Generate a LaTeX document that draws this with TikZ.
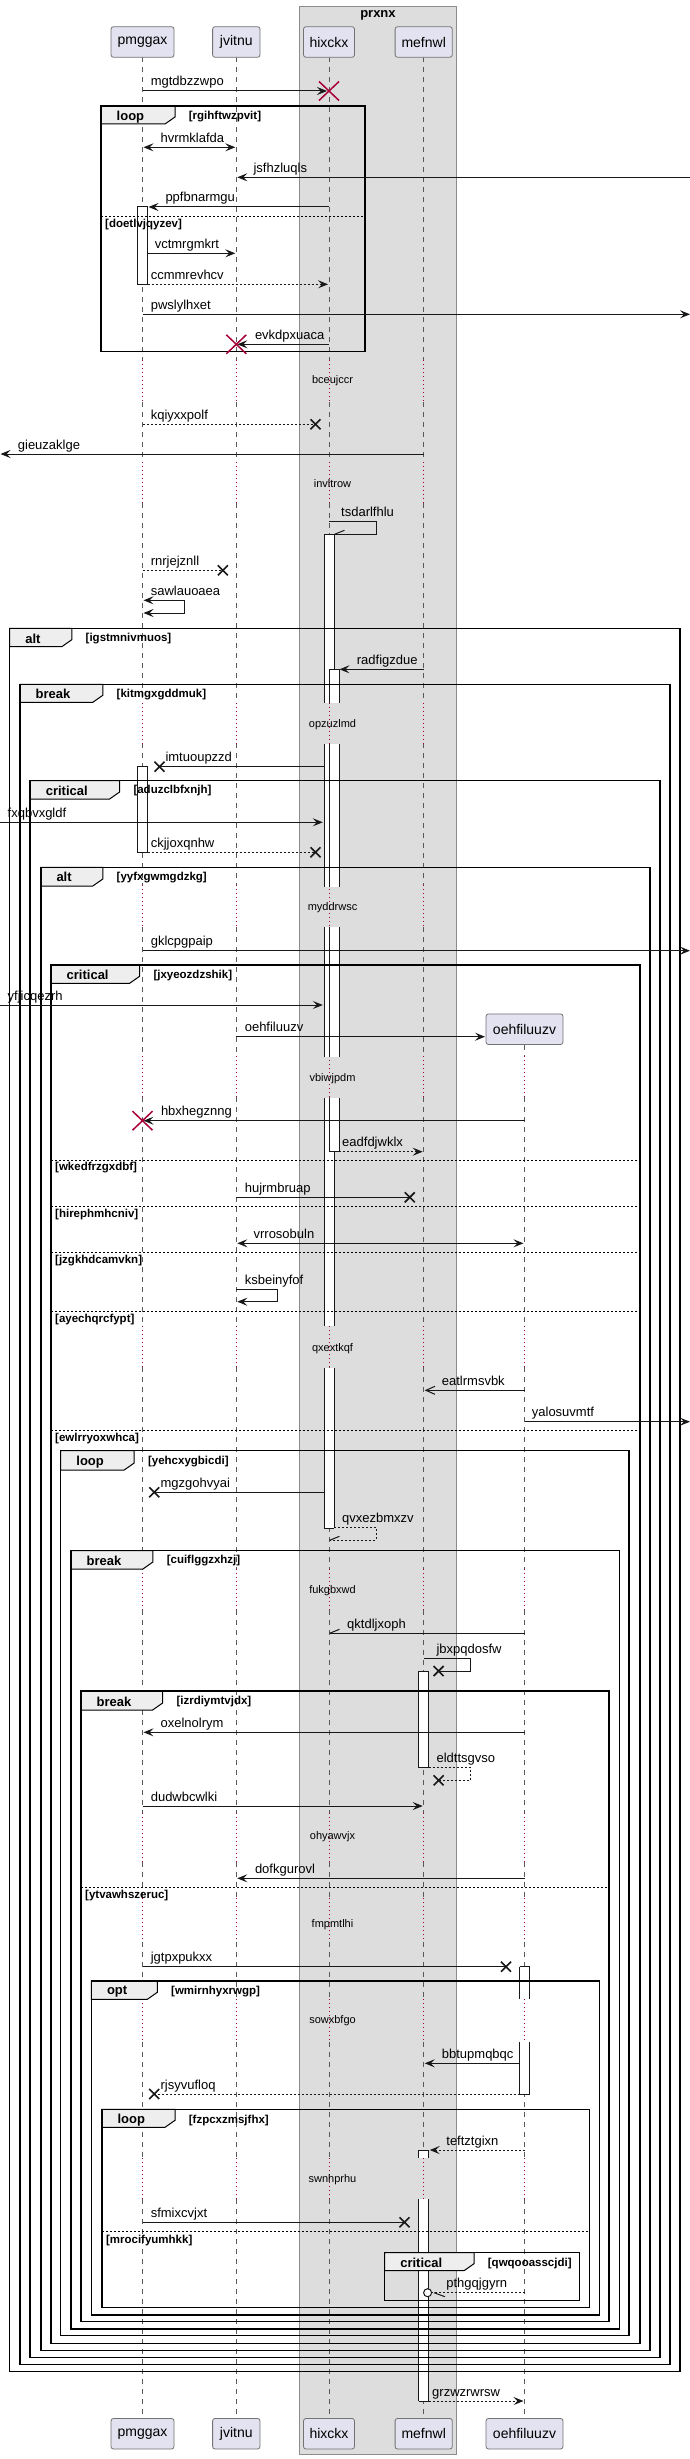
\documentclass[tikz,border=0pt]{standalone}
\usepackage{fontspec}
\setmainfont{Liberation Sans}
\usetikzlibrary{arrows.meta}
\definecolor{ln}{HTML}{181818}
\definecolor{redx}{HTML}{A80036}
\definecolor{partfill}{HTML}{E2E2F0}
\definecolor{tabfill}{HTML}{EEEEEE}
\definecolor{boxfill}{HTML}{DDDDDD}
\newcommand\msgc[6]{\coordinate (#1s) at (#2,#4); \coordinate (#1e) at (#3,#4);
  \draw[#5] (#1s) -- (#1e); \node[lbl] (#1l) at (#6,#4-5) {#1};}
\newcommand\selfm[8]{\coordinate (#1s) at (#2,#4); \coordinate (#1c) at (#3,#4);
  \coordinate (#1d) at (#3,#5); \coordinate (#1e) at (#6,#5);
  \draw[#7] (#1s) -- (#1c) -- (#1d) -- (#1e); \node[lbl] (#1l) at (#8,#4-5) {#1};}
\newcommand\blackx[2]{\draw[bxs] (#1-5,#2-5) -- (#1+5,#2+5) (#1-5,#2+5) -- (#1+5,#2-5);}
\newcommand\redx[2]{\draw[rxs] (#1-10,#2-9.5) -- (#1+10,#2+9.5) (#1-10,#2+9.5) -- (#1+10,#2-9.5);}
\newcommand\actseg[3]{\fill[white] (#1-5,#2) rectangle (#1+5,#3);
  \draw[act] (#1-5,#2) -- (#1-5,#3) (#1+5,#2) -- (#1+5,#3);}
\newcommand\actcap[2]{\draw[act] (#1-5,#2) -- (#1+5,#2);}
\newcommand\sqframe[9]{%
  \draw[tab] (#1,#3) -- (#5,#3) -- (#5,#6-7) -- (#5-10,#6) -- (#1,#6) -- cycle;
  \draw[frm] (#1,#3) rectangle (#2,#4);
  \node[ftitle] (ft-#8) at (#1+15.5,#9) {#7};
  \node[fcond] (fc-#8) at (#5+13.7,#9) {[#8]};}
\newcommand\sepline[5]{\draw[sep] (#1,#3) -- (#2,#3); \node[fcond] (fc-#5) at (#1+4,#4) {[#5]};}
\begin{document}
\begin{tikzpicture}[x=1pt,y=-1pt,
  >={Stealth[length=10pt,width=8pt,inset=4pt]},
  msg/.style={draw=ln,line width=1pt},
  dmsg/.style={msg,dash pattern=on 2pt off 2pt},
  oarr/.style={-{Straight Barb[length=9pt,width=8pt]}},
  lbl/.style={font=\fontsize{13}{15}\selectfont,text=black,inner sep=0pt,anchor=base west},
  dly/.style={font=\fontsize{11}{13}\selectfont,inner sep=0pt},
  part/.style={draw=black!55,fill=partfill,rounded corners=2.5pt,line width=0.8pt,font=\fontsize{14}{16}\selectfont,inner sep=0pt,minimum height=30.6pt},
  life/.style={draw=black!65,line width=0.8pt,dash pattern=on 5pt off 5pt},
  delayl/.style={draw=redx,line width=0.9pt,dash pattern=on 1pt off 3pt},
  frm/.style={draw=black,line width=1.5pt},
  tab/.style={fill=tabfill,draw=black,line width=1pt},
  ftitle/.style={font=\bfseries\fontsize{13}{15}\selectfont,inner sep=0pt,anchor=west},
  fcond/.style={font=\bfseries\fontsize{11.5}{13}\selectfont,inner sep=0pt,anchor=west},
  sep/.style={draw=black,line width=1pt,dash pattern=on 2pt off 2pt},
  act/.style={draw=ln,line width=1pt},
  bxs/.style={draw=ln,line width=1.6pt},
  rxs/.style={draw=redx,line width=1.5pt}]
\useasboundingbox (0,0) rectangle (690,2459);
\fill[white] (0,0) rectangle (690,2459);
% box
\node[draw=black!45,fill=boxfill,minimum width=156.9pt,minimum height=2448pt,inner sep=0pt,line width=0.8pt] (prxnx) at (377.95,1230) {};
\node[font=\bfseries\fontsize{13}{15}\selectfont,inner sep=0pt] (prxnxt) at (377.95,15) {prxnx};
% lifelines
\foreach \x in {142.5,236.3,329,423.7}{
  \foreach \a/\b in {57.3/360,402/461.7,503.3/702.7,743.3/885,927.3/1056,1097/1326,1367.3/1569.3,1610/1813.3,1861.7/1898,1941.7/1999.3,2041.7/2158.3,2199.3/2418.3}
    \draw[life] (\x,\a) -- (\x,\b);
  \foreach \a/\b in {360/402,461.7/503.3,702.7/743.3,885/927.3,1056/1097,1326/1367.3,1569.3/1610,1813.3/1861.7,1898/1941.7,1999.3/2041.7,2158.3/2199.3}
    \draw[delayl] (\x,\a) -- (\x,\b);
}
\foreach \a/\b in {1045/1056,1097/1326,1367.3/1569.3,1610/1813.3,1861.7/1898,1941.7/1999.3,2041.7/2158.3,2199.3/2418.3}
  \draw[life] (524.5,\a) -- (524.5,\b);
\foreach \a/\b in {1056/1097,1326/1367.3,1569.3/1610,1813.3/1861.7,1898/1941.7,1999.3/2041.7,2158.3/2199.3}
  \draw[delayl] (524.5,\a) -- (524.5,\b);
% participants
\node[part,minimum width=63pt] (p1) at (142.5,42) {pmggax};
\node[part,minimum width=47.4pt] (p2) at (236.3,42) {jvitnu};
\node[part,minimum width=51pt] (p3) at (329,42) {hixckx};
\node[part,minimum width=57.2pt] (p4) at (423.7,42) {mefnwl};
\node[part,minimum width=77pt] (p5) at (524.5,1029.2) {oehfiluuzv};
\node[part,minimum width=63pt] (q1) at (142.5,2433.7) {pmggax};
\node[part,minimum width=47.4pt] (q2) at (236.3,2433.7) {jvitnu};
\node[part,minimum width=51pt] (q3) at (329,2433.7) {hixckx};
\node[part,minimum width=57.2pt] (q4) at (423.7,2433.7) {mefnwl};
\node[part,minimum width=77pt] (q5) at (524.5,2433.7) {oehfiluuzv};
% activations
\draw[act,fill=white] (137.5,207) rectangle (147.5,284.3);
\draw[act,fill=white] (137.5,766.3) rectangle (147.5,852.3);
\foreach \a/\b in {534.3/702.7,744.3/886.7,927.3/1057.3,1098.3/1326,1368.3/1528.3} {\actseg{329}{\a}{\b}}
\actcap{329}{534.3}\actcap{329}{1528.3}
\foreach \a/\b in {669.3/702.7,744.3/886.7,927.3/1057.3,1098.3/1151.7} {\actseg{334}{\a}{\b}}
\actcap{334}{669.3}\actcap{334}{1151.7}
\draw[act,fill=white] (418.7,1671.7) rectangle (428.7,1767.7);
\foreach \a/\b in {1966.7/1999.3,2041.7/2094} {\actseg{524.5}{\a}{\b}}
\actcap{524.5}{1966.7}\actcap{524.5}{2094}
\foreach \a/\b in {2150/2158.3,2199.3/2401} {\actseg{423.7}{\a}{\b}}
\actcap{423.7}{2150}\actcap{423.7}{2401}
% frames
\sqframe{101}{365}{106}{351.7}{175}{124}{loop}{rgihftwzpvit}{116.7}
\sepline{101}{365}{216}{225}{doetlvjqyzev}
\sqframe{9.7}{680.1}{628.3}{2371.7}{71.8}{646.7}{alt}{igstmnivmuos}{639}
\sqframe{20}{670}{684.3}{2364.3}{102.8}{702.3}{break}{kitmgxgddmuk}{694.3}
\sqframe{30.1}{660.2}{780.7}{2357.3}{119.6}{799}{critical}{aduzclbfxnjh}{791}
\sqframe{40.8}{650}{867.3}{2350.7}{102.8}{886}{alt}{yyfxgwmgdzkg}{877.3}
\sqframe{51}{640}{965}{2343.3}{139.6}{983.3}{critical}{jxyeozdzshik}{975.3}
\sepline{51}{640}{1160.7}{1167.7}{wkedfrzgxdbf}
\sepline{51}{640}{1206.7}{1215}{hirephmhcniv}
\sepline{51}{640}{1252.7}{1261}{jzgkhdcamvkn}
\sepline{51}{640}{1311}{1319.3}{ayechqrcfypt}
\sepline{51}{640}{1430.3}{1438.3}{ewlrryoxwhca}
\sqframe{60.7}{629.2}{1450.7}{2335.7}{134.2}{1470}{loop}{yehcxygbicdi}{1461.7}
\sqframe{70.9}{619.4}{1550.7}{2329}{152.9}{1569}{break}{cuiflggzxhzj}{1560.7}
\sqframe{81}{609.2}{1691}{2321.7}{162.6}{1710}{break}{izrdiymtvjdx}{1701.7}
\sepline{81}{609.2}{1887.3}{1896}{ytvawhszeruc}
\sqframe{91.3}{599.5}{1981}{2315}{157.3}{1999.3}{opt}{wmirnhyxrwgp}{1991.7}
\sqframe{101.9}{589.3}{2109.3}{2307.7}{175}{2127.3}{loop}{fzpcxzmsjfhx}{2120}
\sepline{101.9}{589.3}{2231.7}{2240}{mrocifyumhkk}
\sqframe{384.6}{579.5}{2252.7}{2300.7}{474}{2270.7}{critical}{qwqooasscjdi}{2263.3}
% delays
\node[dly] (d1) at (332.5,381) {bceujccr};
\node[dly] (d2) at (332.5,484) {invltrow};
\node[dly] (d3) at (332.5,724.3) {opzuzlmd};
\node[dly] (d4) at (332.5,907.3) {myddrwsc};
\node[dly] (d5) at (332.5,1078.3) {vbiwjpdm};
\node[dly] (d6) at (332.5,1348.3) {qxextkqf};
\node[dly] (d7) at (332.5,1591) {fukgbxwd};
\node[dly] (d8) at (332.5,1836.7) {ohyawvjx};
\node[dly] (d9) at (332.5,1924.3) {fmpmtlhi};
\node[dly] (d10) at (332.5,2021) {sowxbfgo};
\node[dly] (d11) at (332.5,2179.3) {swnhprhu};
% messages
\msgc{mgtdbzzwpo}{142.5}{327}{91}{msg,->}{150.6}
\redx{329}{91}
\msgc{hvrmklafda}{143.5}{235.3}{147.3}{msg,<->}{160.4}
\msgc{jsfhzluqls}{690}{237.3}{177.3}{msg,->}{253.4}
\msgc{ppfbnarmgu}{329}{148.5}{207}{msg,->}{165.3}
\msgc{vctmrgmkrt}{147.5}{235.3}{253.3}{msg,->}{154.6}
\msgc{ccmmrevhcv}{147.5}{328}{284.3}{dmsg,->}{150.6}
\msgc{pwslylhxet}{142.5}{690}{314.3}{msg,->}{150.6}
\msgc{evkdpxuaca}{329}{237.3}{344.3}{msg,->}{254.8}
\redx{236.3}{344.3}
\msgc{kqiyxxpolf}{142.5}{315.5}{424.3}{dmsg}{150.6}
\blackx{315.5}{424.3}
\msgc{gieuzaklge}{423.7}{0.5}{454}{msg,->}{17.7}
\selfm{tsdarlfhlu}{329}{376.2}{521.7}{534.3}{334.5}{msg}{341}
\draw[msg] (tsdarlfhlue) -- ++(10,-4);
\msgc{rnrjejznll}{142.5}{222.9}{570.3}{dmsg}{150.6}
\blackx{222.9}{570.3}
\selfm{sawlauoaea}{143.5}{184.3}{600.3}{613}{143.5}{msg,<->}{150.6}
\msgc{radfigzdue}{423.7}{339.5}{669.3}{msg,->}{356.7}
\msgc{imtuoupzzd}{323.8}{159.5}{766.7}{msg}{165.3}
\blackx{159.5}{766.7}
\msgc{fxqbvxgldf}{0}{322.8}{822.3}{msg,->}{7.5}
\msgc{ckjjoxqnhw}{147.5}{315.5}{852.3}{dmsg}{150.6}
\blackx{315.5}{852.3}
\msgc{gklcpgpaip}{142.5}{690}{950.7}{msg,->}{150.6}
\msgc{yfjicqezrh}{0}{322.8}{1005}{msg,->}{7.5}
\msgc{oehfiluuzv}{236.3}{485}{1036.7}{msg,->}{244.6}
\msgc{hbxhegznng}{524.5}{143.5}{1120.7}{msg,->}{160.8}
\redx{142.5}{1120.7}
\msgc{eadfdjwklx}{338.8}{422.7}{1151.7}{dmsg,->}{342}
\msgc{hujrmbruap}{236.3}{409.8}{1197.3}{msg}{244.6}
\blackx{409.8}{1197.3}
\msgc{vrrosobuln}{237.3}{523.5}{1243.3}{msg,<->}{253.4}
\selfm{ksbeinyfof}{236.3}{277.8}{1289.3}{1301.7}{237.3}{msg,->}{244.6}
\msgc{eatlrmsvbk}{524.5}{424.7}{1390.3}{msg,oarr}{441.7}
\msgc{yalosuvmtf}{524.5}{690}{1421.7}{msg,->}{531.7}
\msgc{mgzgohvyai}{323.8}{154.2}{1492.3}{msg}{160.4}
\blackx{154.2}{1492.3}
\selfm{qvxezbmxzv}{333.8}{376.2}{1527.7}{1540.3}{329.5}{dmsg}{342}
\draw[msg] (qvxezbmxzve) -- ++(10,-4);
\msgc{qktdljxoph}{524.5}{329.5}{1633.3}{msg}{347}
\draw[msg] (qktdljxophe) -- ++(10,-4);
\selfm{jbxpqdosfw}{423.7}{470.5}{1658.3}{1671}{438.6}{msg}{436.4}
\blackx{438.6}{1671}
\msgc{oxelnolrym}{524.5}{143.5}{1732.3}{msg,->}{160.4}
\selfm{eldttsgvso}{428.7}{470.5}{1767.3}{1780.3}{438.6}{dmsg}{436.4}
\blackx{438.6}{1780.3}
\msgc{dudwbcwlki}{142.5}{422.7}{1806}{msg,->}{150.6}
\msgc{dofkgurovl}{524.5}{237.3}{1878.3}{msg,->}{254.8}
\msgc{jgtpxpukxx}{142.5}{506}{1966.7}{msg}{150.6}
\blackx{506}{1966.7}
\msgc{bbtupmqbqc}{519.5}{424.7}{2063.3}{msg,->}{441.7}
\msgc{rjsyvufloq}{519.5}{154.2}{2094}{dmsg}{160.4}
\blackx{154.2}{2094}
\msgc{teftztgixn}{524.5}{429.7}{2150}{dmsg,->}{446.2}
\msgc{sfmixcvjxt}{142.5}{404.5}{2222.3}{msg}{150.6}
\blackx{404.5}{2222.3}
\msgc{pthgqjgyrn}{524.5}{431.6}{2292.7}{dmsg}{446.2}
\coordinate (pthc) at (427.6,2292.7);
\draw[msg,fill=white] (pthc) circle[radius=4pt];
\draw[msg] (434,2292.7) -- ++(11,4);
\msgc{grzwzrwrsw}{428.7}{523.5}{2401}{dmsg,->}{432}
\end{tikzpicture}
\end{document}
